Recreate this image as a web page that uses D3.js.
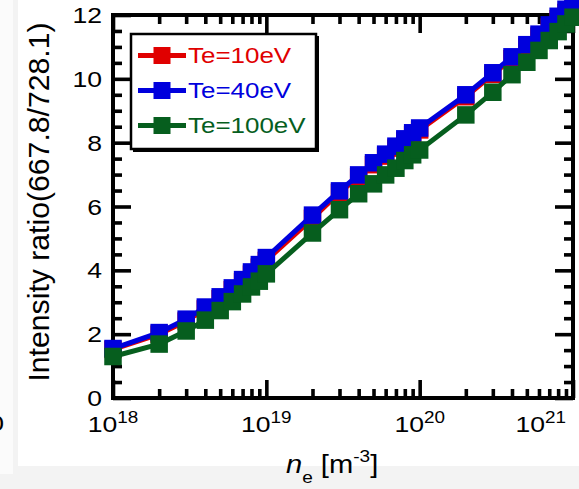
<!DOCTYPE html>
<html><head><meta charset="utf-8">
<script src="https://cdn.jsdelivr.net/npm/d3@7"></script>
<style>
html,body{margin:0;padding:0;background:#f3f3f3;}
svg{display:block;font-family:"Liberation Sans",Arial,Helvetica,sans-serif;}
</style></head><body>
<svg id="chart" width="579" height="489"></svg>
<script>
// Electron density (m^-3) at which the line ratio was computed
const density = [1e18, 2e18, 3e18, 4e18, 5e18, 6e18, 7e18, 8e18, 9e18,
                 1e19, 2e19, 3e19, 4e19, 5e19, 6e19, 7e19, 8e19, 9e19,
                 1e20, 2e20, 3e20, 4e20, 5e20, 6e20, 7e20, 8e20, 9e20, 1e21];
// Intensity ratio 667.8 nm / 728.1 nm for each electron temperature
const ratioTe10  = [1.52, 2.00, 2.41, 2.79, 3.11, 3.39, 3.64, 3.88, 4.10, 4.31,
                    5.63, 6.44, 6.93, 7.31, 7.58, 7.83, 8.06, 8.25, 8.40,
                    9.44, 10.14, 10.63, 11.01, 11.34, 11.62, 11.88, 12.08, 12.28];
const ratioTe40  = [1.55, 2.05, 2.47, 2.85, 3.17, 3.45, 3.71, 3.95, 4.18, 4.40,
                    5.73, 6.49, 6.99, 7.37, 7.64, 7.89, 8.12, 8.31, 8.46,
                    9.50, 10.19, 10.69, 11.07, 11.40, 11.69, 11.96, 12.18, 12.40];
const ratioTe100 = [1.30, 1.69, 2.10, 2.44, 2.74, 3.02, 3.26, 3.48, 3.66, 3.89,
                    5.17, 5.90, 6.40, 6.71, 6.99, 7.20, 7.44, 7.62, 7.77,
                    8.87, 9.58, 10.13, 10.52, 10.89, 11.20, 11.48, 11.72, 11.93];
const seriesNames  = ["Te=10eV", "Te=40eV", "Te=100eV"];
const seriesColors = ["#e00000", "#0000dd", "#065e1e"];

const yMajorTicks = [0, 2, 4, 6, 8, 10, 12];
const yMinorTicks = [0.5, 1, 1.5, 2.5, 3, 3.5, 4.5, 5, 5.5, 6.5, 7, 7.5, 8.5, 9, 9.5, 10.5, 11, 11.5];
const xMajorTicks = [1e18, 1e19, 1e20, 1e21];
const xMinorTicks = [2e18, 3e18, 4e18, 5e18, 6e18, 7e18, 8e18, 9e18,
                     2e19, 3e19, 4e19, 5e19, 6e19, 7e19, 8e19, 9e19,
                     2e20, 3e20, 4e20, 5e20, 6e20, 7e20, 8e20, 9e20];
const xTickBase = ["10", "10", "10", "10"];
const xTickExp  = ["18", "19", "20", "21"];
const yTitle = "Intensity ratio(667.8/728.1)";

const W = 579, H = 489;
const plotL = 113, plotR = 573, plotT = 15, plotB = 398;
const SX = 1.18;           // horizontal stretch of the label face
const svg = d3.select("#chart");

// page backdrop: white panel with a pale strip at the left
svg.append("rect").attr("x", 0).attr("y", 0).attr("width", W).attr("height", H).attr("fill", "#f3f3f3");
svg.append("rect").attr("x", 0).attr("y", 0).attr("width", 13).attr("height", 474).attr("fill", "#fbfbfb");
svg.append("rect").attr("x", 18).attr("y", 0).attr("width", W - 18).attr("height", 466).attr("fill", "#ffffff");
// edge of the neighbouring panel's axis label
svg.append("text").attr("transform", `translate(4,431) scale(${SX},1)`)
  .attr("text-anchor", "end").attr("font-size", 22.5).attr("fill", "#000").text("0");

const x = d3.scaleLog().domain([1e18, 1e21]).range([plotL, plotR]);
const y = d3.scaleLinear().domain([0, 12]).range([plotB, plotT]);

const tickW = 3.6;
function styleAxis(g) {
  g.select(".domain").remove();
  g.selectAll(".tick line").attr("stroke", "#000").attr("stroke-width", tickW);
}

// inward ticks on all four sides
svg.append("g").attr("transform", `translate(${plotL},0)`)
  .call(d3.axisLeft(y).tickValues(yMajorTicks).tickSizeInner(-18).tickSizeOuter(0).tickFormat(""))
  .call(styleAxis);
svg.append("g").attr("transform", `translate(${plotL},0)`)
  .call(d3.axisLeft(y).tickValues(yMinorTicks).tickSizeInner(-9).tickSizeOuter(0).tickFormat(""))
  .call(styleAxis);
svg.append("g").attr("transform", `translate(${plotR},0)`)
  .call(d3.axisRight(y).tickValues(yMajorTicks).tickSizeInner(-18).tickSizeOuter(0).tickFormat(""))
  .call(styleAxis);
svg.append("g").attr("transform", `translate(${plotR},0)`)
  .call(d3.axisRight(y).tickValues(yMinorTicks).tickSizeInner(-9).tickSizeOuter(0).tickFormat(""))
  .call(styleAxis);
svg.append("g").attr("transform", `translate(0,${plotB})`)
  .call(d3.axisBottom(x).tickValues(xMajorTicks).tickSizeInner(-18).tickSizeOuter(0).tickFormat(""))
  .call(styleAxis);
svg.append("g").attr("transform", `translate(0,${plotB})`)
  .call(d3.axisBottom(x).tickValues(xMinorTicks).tickSizeInner(-9).tickSizeOuter(0).tickFormat(""))
  .call(styleAxis);
svg.append("g").attr("transform", `translate(0,${plotT})`)
  .call(d3.axisTop(x).tickValues(xMajorTicks).tickSizeInner(-18).tickSizeOuter(0).tickFormat(""))
  .call(styleAxis);
svg.append("g").attr("transform", `translate(0,${plotT})`)
  .call(d3.axisTop(x).tickValues(xMinorTicks).tickSizeInner(-9).tickSizeOuter(0).tickFormat(""))
  .call(styleAxis);

// frame
svg.append("rect").attr("x", plotL).attr("y", plotT)
  .attr("width", plotR - plotL).attr("height", plotB - plotT)
  .attr("fill", "none").attr("stroke", "#000").attr("stroke-width", 4);

// y tick labels
svg.append("g").selectAll("text").data(yMajorTicks).join("text")
  .attr("transform", d => `translate(102,${y(d)}) scale(${SX},1)`)
  .attr("text-anchor", "end").attr("dy", "0.36em")
  .attr("font-size", 22.5).attr("fill", "#000")
  .text(d => d);

// x tick labels with powers of ten
const xl = svg.append("g").selectAll("text").data(xMajorTicks).join("text")
  .attr("transform", (d, i) => {
    const px = i === xMajorTicks.length - 1 ? 566 : x(d);
    return `translate(${px},432) scale(${SX},1)`;
  })
  .attr("text-anchor", (d, i) => i === xMajorTicks.length - 1 ? "end" : "middle")
  .attr("font-size", 22.5).attr("fill", "#000");
xl.append("tspan").text((d, i) => xTickBase[i]);
xl.append("tspan").attr("dy", -9.5).attr("font-size", 16).text((d, i) => xTickExp[i]);

// x axis title: n_e [m^-3]
const xt = svg.append("text").attr("transform", `translate(286,473) scale(1.12,1)`)
  .attr("font-size", 26).attr("fill", "#000");
xt.append("tspan").attr("font-style", "italic").text("n");
xt.append("tspan").attr("dy", 10).attr("font-size", 17).text("e");
xt.append("tspan").attr("dy", -10).text(" [m");
xt.append("tspan").attr("dy", -11).attr("font-size", 17).text("-3");
xt.append("tspan").attr("dy", 11).text("]");

// y axis title
svg.append("text").attr("transform", "translate(49,202) rotate(-90)")
  .attr("text-anchor", "middle").attr("font-size", 30.2).attr("fill", "#000")
  .text(yTitle);

// data series: lines with square markers
const seriesValues = [ratioTe10, ratioTe40, ratioTe100];
const line = d3.line().x(d => x(d[0])).y(d => y(d[1]));
const M = 17.5;
seriesValues.forEach((vals, si) => {
  const pts = density.map((n, i) => [n, vals[i]]);
  const g = svg.append("g");
  g.append("path").attr("d", line(pts)).attr("fill", "none")
    .attr("stroke", seriesColors[si]).attr("stroke-width", 5).attr("stroke-linejoin", "miter");
  g.selectAll("rect").data(pts).join("rect")
    .attr("x", d => x(d[0]) - M / 2).attr("y", d => y(d[1]) - M / 2)
    .attr("width", M).attr("height", M).attr("fill", seriesColors[si]);
});

// legend
const lg = svg.append("g");
lg.append("rect").attr("x", 133).attr("y", 36).attr("width", 186).attr("height", 116).attr("fill", "#000");
lg.append("rect").attr("x", 131).attr("y", 34).attr("width", 185).attr("height", 115)
  .attr("fill", "#fff").attr("stroke", "#000").attr("stroke-width", 2.5);
const rowY = [55.5, 90.5, 125.5];
seriesNames.forEach((name, i) => {
  lg.append("line").attr("x1", 138).attr("x2", 186).attr("y1", rowY[i]).attr("y2", rowY[i])
    .attr("stroke", seriesColors[i]).attr("stroke-width", 5);
  lg.append("rect").attr("x", 162 - 8.5).attr("y", rowY[i] - 8.5).attr("width", 17).attr("height", 17)
    .attr("fill", seriesColors[i]);
  lg.append("text").attr("transform", `translate(188,${rowY[i]}) scale(${SX},1)`)
    .attr("dy", "0.36em").attr("font-size", 22).attr("fill", seriesColors[i]).text(name);
});
</script>
</body></html>
